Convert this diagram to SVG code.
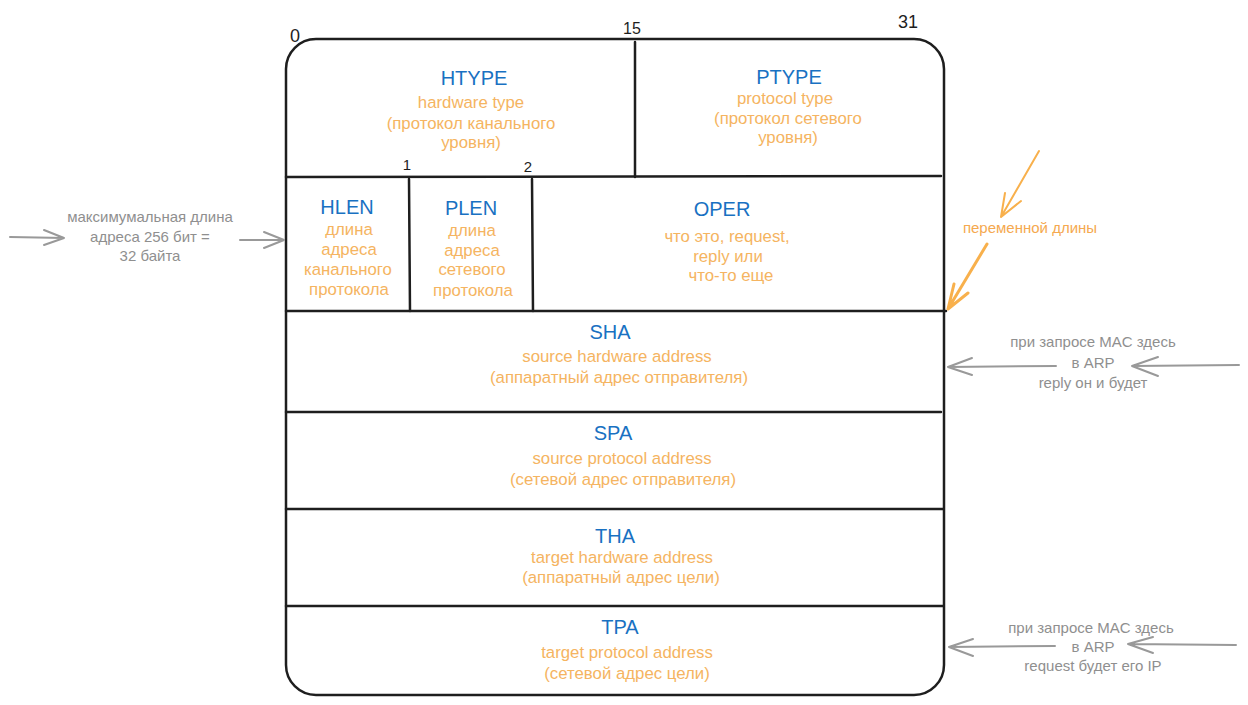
<svg xmlns="http://www.w3.org/2000/svg" width="1248" height="705" viewBox="0 0 1248 705">
<style>
  .frame{fill:none;stroke:#1e1e1e;stroke-width:2.5;stroke-linecap:round;stroke-linejoin:round}
  .t{font-family:"Liberation Sans","Noto Sans",sans-serif;text-anchor:middle}
  .title{font-size:20px;fill:#1971c2}
  .desc{font-size:16.8px;fill:#f5b461}
  .num{font-size:16px;fill:#1e1e1e}
  .note{font-size:15px;fill:#8f8f8f}
  .onote{font-size:15px;fill:#f5a94f}
  .ga{fill:none;stroke:#999;stroke-width:2;stroke-linecap:round;stroke-linejoin:round}
  .oa{fill:none;stroke:#f8b04c;stroke-width:2;stroke-linecap:round;stroke-linejoin:round}
</style>
<rect width="1248" height="705" fill="#ffffff"/>

<g id="frame">
  <rect class="frame" x="286" y="39" width="658" height="656" rx="30" ry="30"/>
  <text class="t num" x="295" y="42" style="font-size:18px">0</text>
  <text class="t num" x="632" y="34">15</text>
  <text class="t num" x="908" y="28" style="font-size:18px">31</text>
  <text class="t num" x="407" y="170" style="font-size:15px">1</text>
  <text class="t num" x="528" y="172" style="font-size:15px">2</text>
</g>

<g id="dividers">
  <line class="frame" x1="635" y1="42" x2="635" y2="177"/>
  <line class="frame" x1="286" y1="177" x2="941" y2="176"/>
  <line class="frame" x1="409" y1="179" x2="410" y2="311"/>
  <line class="frame" x1="532" y1="179" x2="533" y2="311"/>
  <line class="frame" x1="286" y1="311" x2="946" y2="311"/>
  <line class="frame" x1="286" y1="412" x2="941" y2="412"/>
  <line class="frame" x1="286" y1="509" x2="943" y2="509"/>
  <line class="frame" x1="286" y1="606" x2="943" y2="606"/>
</g>

<g id="htype">
  <text class="t title" x="474" y="85">HTYPE</text>
  <text class="t desc" x="471" y="108">hardware type</text>
  <text class="t desc" x="471" y="129">(протокол канального</text>
  <text class="t desc" x="471" y="148">уровня)</text>
</g>
<g id="ptype">
  <text class="t title" x="789" y="84">PTYPE</text>
  <text class="t desc" x="785" y="104">protocol type</text>
  <text class="t desc" x="788" y="124">(протокол сетевого</text>
  <text class="t desc" x="788" y="143">уровня)</text>
</g>
<g id="hlen">
  <text class="t title" x="347" y="214">HLEN</text>
  <text class="t desc" x="349" y="235">длина</text>
  <text class="t desc" x="349" y="255">адреса</text>
  <text class="t desc" x="348" y="275">канального</text>
  <text class="t desc" x="349" y="295">протокола</text>
</g>
<g id="plen">
  <text class="t title" x="471" y="215">PLEN</text>
  <text class="t desc" x="472" y="236">длина</text>
  <text class="t desc" x="472" y="256">адреса</text>
  <text class="t desc" x="472" y="275">сетевого</text>
  <text class="t desc" x="473" y="296">протокола</text>
</g>
<g id="oper">
  <text class="t title" x="722" y="216">OPER</text>
  <text class="t desc" x="727" y="242">что это, request,</text>
  <text class="t desc" x="728" y="262">reply или</text>
  <text class="t desc" x="731" y="281">что-то еще</text>
</g>
<g id="sha">
  <text class="t title" x="610" y="339">SHA</text>
  <text class="t desc" x="617" y="362">source hardware address</text>
  <text class="t desc" x="619" y="383">(аппаратный адрес отправителя)</text>
</g>
<g id="spa">
  <text class="t title" x="613" y="440">SPA</text>
  <text class="t desc" x="622" y="464">source protocol address</text>
  <text class="t desc" x="623" y="485">(сетевой адрес отправителя)</text>
</g>
<g id="tha">
  <text class="t title" x="615" y="543">THA</text>
  <text class="t desc" x="622" y="563">target hardware address</text>
  <text class="t desc" x="621" y="583">(аппаратный адрес цели)</text>
</g>
<g id="tpa">
  <text class="t title" x="620" y="634">TPA</text>
  <text class="t desc" x="627" y="658">target protocol address</text>
  <text class="t desc" x="627" y="679">(сетевой адрес цели)</text>
</g>

<g id="note-hlen">
  <text class="t note" x="150" y="222">максимумальная длина</text>
  <text class="t note" x="150" y="242">адреса 256 бит =</text>
  <text class="t note" x="150" y="261">32 байта</text>
</g>
<g id="note-variable">
  <text class="t onote" x="1030" y="233">переменной длины</text>
</g>
<g id="note-reply">
  <text class="t note" x="1093" y="347">при запросе MAC здесь</text>
  <text class="t note" x="1093" y="368">в ARP</text>
  <text class="t note" x="1093" y="388">reply он и будет</text>
</g>
<g id="note-request">
  <text class="t note" x="1091" y="633">при запросе MAC здесь</text>
  <text class="t note" x="1093" y="652">в ARP</text>
  <text class="t note" x="1093" y="671">request будет его IP</text>
</g>

<g id="connectors">
  <path class="ga" d="M10,237 L64,238 M44,230 L64,238 L44,245"/>
  <path class="ga" d="M240,240 L284,240 M264,232 L284,240 L264,248"/>
  <path class="oa" d="M1039,151 L1001,217 M1005,193 L1001,217 L1021,201"/>
  <path class="oa" style="stroke-width:3" d="M987,244 L948,309 M954,284 L948,309 L968,293"/>
  <path class="ga" d="M1056,366 L948,367 M972,358 L948,367 L972,375"/>
  <path class="ga" d="M1239,365 L1132,366 M1158,357 L1132,366 L1158,376"/>
  <path class="ga" d="M1055,646 L949,647 M973,639 L949,647 L973,656"/>
  <path class="ga" d="M1236,645 L1128,644 M1153,637 L1128,644 L1153,653"/>
</g>
</svg>
